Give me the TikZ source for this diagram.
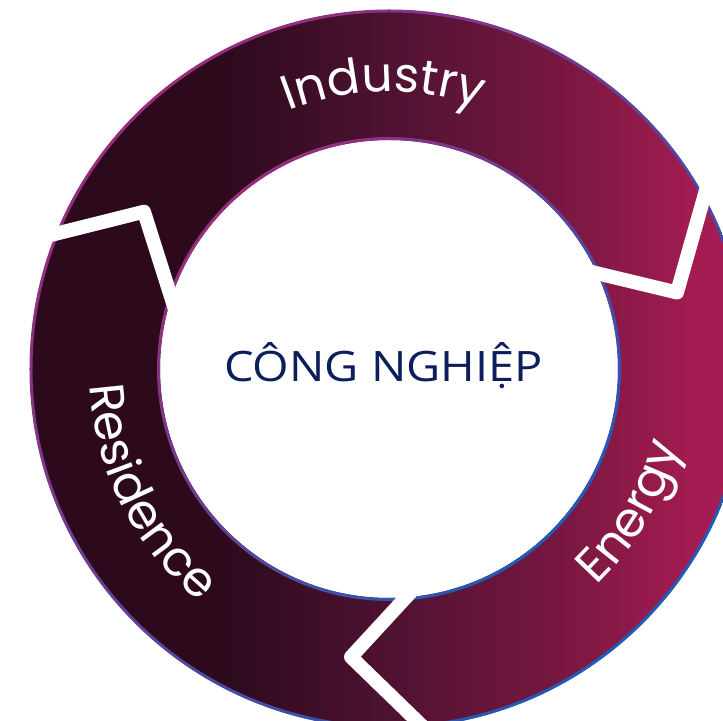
\documentclass[tikz,border=0pt]{standalone}
\usepackage{fontspec}
\usetikzlibrary{decorations.text}
\newfontfamily\labelfont{Poppins}
\newfontfamily\centrefont[FakeStretch=1.12]{Open Sans}

\definecolor{ringdark}{HTML}{2C0A1C}
\definecolor{ringmid}{HTML}{4F1232}
\definecolor{ringrose}{HTML}{781741}
\definecolor{ringpink}{HTML}{A51C52}
\definecolor{rimtop}{HTML}{9B2B7D}
\definecolor{rimbot}{HTML}{1F5CB8}
\definecolor{titlenavy}{RGB}{12,30,92}

\pgfdeclarehorizontalshading{ringshade}{100bp}{color(0bp)=(ringdark); color(38.4bp)=(ringdark); color(50.2bp)=(ringmid); color(61.9bp)=(ringrose); color(71.7bp)=(ringpink); color(100bp)=(ringpink)}

\begin{document}
\begin{tikzpicture}[x=0.025cm, y=0.025cm,
    gapline/.style={white, line width=9.9pt, line join=round},
    rim/.style={even odd rule, top color=rimtop, bottom color=rimbot, shading angle=45},
    ringlabel/.style={decorate, decoration={text along path, text align=center, text color=white}}]

	\useasboundingbox (-389,-352) rectangle (334,369);
	\fill[white] (-389,-352) rectangle (334,369);
	\clip (-389,-352) rectangle (334,369);

	% ring and its rims
	\shade[shading=ringshade, even odd rule] (0,0) circle (359) (0,0) circle (229);
	\shade[rim] (0,0) circle (359.5) (0,0) circle (356.5);
	\shade[rim] (0,0) circle (232) (0,0) circle (229);

	% labels round the ring
	\path[ringlabel, decoration={text={|\labelfont\fontsize{34.5}{38}\selectfont|Industry}}] (126:277) arc (126:56:277);
	\path[ringlabel, decoration={text={|\labelfont\fontsize{34.5}{38}\selectfont|Residence}}] (172:300) arc (172:242:300);
	\path[ringlabel, decoration={text={|\labelfont\fontsize{34.5}{38}\selectfont|Energy}}] (299.5:300) arc (299.5:359.5:300);

	% gaps between the arrows
	\draw[gapline] (-354,130) -- (-245,157.3) -- (-211.4,51.3);
	\draw[gapline] (190.8,99.9) -- (288,76.5) -- (321.8,195.9);
	\draw[gapline] (32.8,-211.2) -- (-38,-288) -- (53,-376.2);

	\node[anchor=base, text=titlenavy, font=\centrefont\fontsize{29.8}{34}\selectfont] (centre) at (-5.5,-12.7) {CÔNG NGHIỆP};
\end{tikzpicture}
\end{document}
